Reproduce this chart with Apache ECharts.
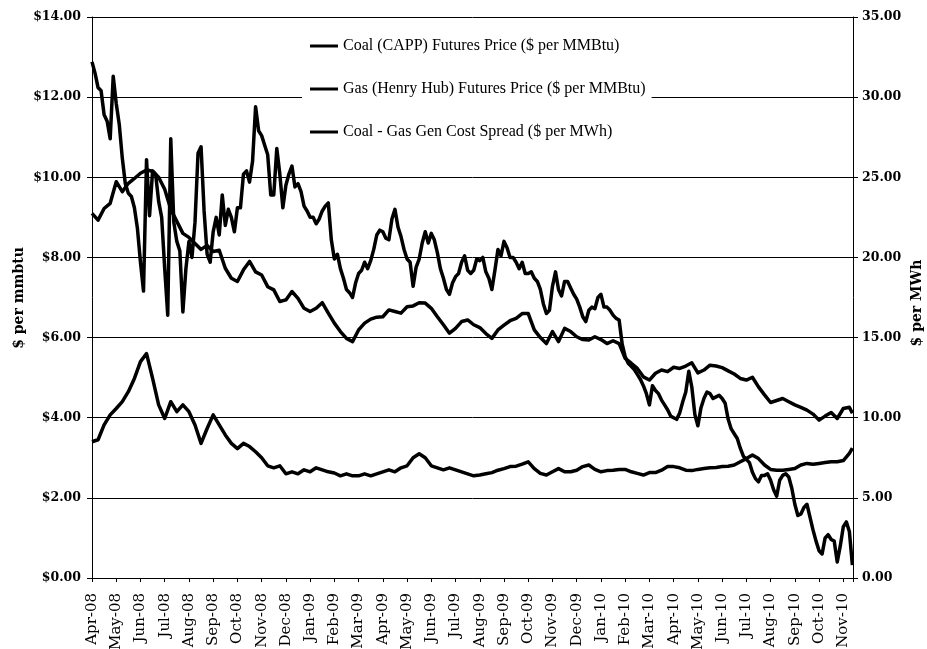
<!DOCTYPE html>
<html>
<head>
<meta charset="utf-8">
<script src="https://cdn.jsdelivr.net/npm/echarts@6/dist/echarts.min.js"></script>
<style>html,body{margin:0;padding:0;background:#fff}#c{width:927px;height:649px}</style>
</head>
<body>
<div id="c"></div>
<script>
// Month tick labels (one per month start; position = month index from Apr-08)
const monthLabels = ['Apr-08','May-08','Jun-08','Jul-08','Aug-08','Sep-08','Oct-08','Nov-08','Dec-08',
  'Jan-09','Feb-09','Mar-09','Apr-09','May-09','Jun-09','Jul-09','Aug-09','Sep-09','Oct-09','Nov-09','Dec-09',
  'Jan-10','Feb-10','Mar-10','Apr-10','May-10','Jun-10','Jul-10','Aug-10','Sep-10','Oct-10','Nov-10'];

const seriesNames = ['Coal (CAPP) Futures Price ($ per MMBtu)',
  'Gas (Henry Hub) Futures Price ($ per MMBtu)',
  'Coal - Gas Gen Cost Spread ($ per MWh)'];

// Sample dates (months since 1 Apr 2008), roughly weekly
const weekPos = [0,0.25,0.5,0.75,1,1.25,1.5,1.75,2,2.25,2.5,2.75,3,3.25,3.5,3.75,4,4.25,4.5,4.75,
  5,5.25,5.5,5.75,6,6.25,6.5,6.75,7,7.25,7.5,7.75,8,8.25,8.5,8.75,9,9.25,9.5,9.75,
  10,10.25,10.5,10.75,11,11.25,11.5,11.75,12,12.25,12.5,12.75,13,13.25,13.5,13.75,14,14.25,14.5,14.75,
  15,15.25,15.5,15.75,16,16.25,16.5,16.75,17,17.25,17.5,17.75,18,18.25,18.5,18.75,19,19.25,19.5,19.75,
  20,20.25,20.5,20.75,21,21.25,21.5,21.75,22,22.25,22.5,22.75,23,23.25,23.5,23.75,24,24.25,24.5,24.75,
  25,25.25,25.5,25.75,26,26.25,26.5,26.75,27,27.25,27.5,27.75,28,28.25,28.5,28.75,29,29.25,29.5,29.75,
  30,30.25,30.5,30.75,31,31.25,31.375];

// Coal (CAPP) futures, $ per MMBtu
const coalPrice = [
  3.40,3.45,3.82,4.07, 4.23,4.40,4.65,4.98, 5.40,5.60,4.98,4.32, 3.98,4.40,4.15,4.32,
  4.15,3.82,3.36,3.73, 4.07,3.82,3.57,3.36, 3.23,3.36,3.28,3.15, 3.00,2.80,2.75,2.80,
  2.60,2.65,2.60,2.70, 2.65,2.75,2.70,2.65, 2.62,2.55,2.60,2.55, 2.55,2.60,2.55,2.60,
  2.65,2.70,2.65,2.75, 2.80,3.00,3.10,3.00, 2.80,2.75,2.70,2.75, 2.70,2.65,2.60,2.55,
  2.57,2.60,2.63,2.69, 2.73,2.78,2.79,2.84, 2.90,2.73,2.61,2.57, 2.65,2.73,2.65,2.65,
  2.69,2.78,2.82,2.71, 2.65,2.68,2.69,2.71, 2.71,2.65,2.61,2.57, 2.63,2.63,2.69,2.78,
  2.78,2.75,2.69,2.68, 2.71,2.73,2.75,2.76, 2.78,2.79,2.82,2.90, 2.98,3.07,2.98,2.82,
  2.71,2.69,2.69,2.71, 2.73,2.82,2.86,2.84, 2.86,2.88,2.90,2.90, 2.93,3.11,3.24];

// Gas (Henry Hub) futures, $ per MMBtu
const gasPrice = [
  9.10,8.93,9.22,9.35, 9.89,9.64,9.85,9.97, 10.10,10.18,10.15,10.00, 9.70,9.20,8.90,8.60,
  8.50,8.35,8.20,8.30, 8.15,8.18,7.73,7.48, 7.40,7.69,7.90,7.64, 7.56,7.27,7.19,6.90,
  6.94,7.15,6.98,6.73, 6.65,6.73,6.87,6.61, 6.36,6.15,5.98,5.90, 6.19,6.36,6.46,6.51,
  6.52,6.69,6.65,6.61, 6.77,6.79,6.87,6.86, 6.73,6.52,6.32,6.11, 6.23,6.40,6.44,6.32,
  6.25,6.10,5.98,6.19, 6.31,6.42,6.48,6.60, 6.60,6.19,6.00,5.85, 6.15,5.90,6.23,6.15,
  6.02,5.95,5.94,6.02, 5.95,5.85,5.92,5.85, 5.48,5.36,5.23,5.02, 4.94,5.11,5.19,5.15,
  5.26,5.23,5.29,5.37, 5.12,5.19,5.31,5.29, 5.25,5.17,5.09,4.98, 4.94,5.01,4.77,4.57,
  4.38,4.43,4.48,4.40, 4.32,4.26,4.19,4.09, 3.94,4.04,4.13,3.98, 4.23,4.26,4.11];

// Spread sample dates (months since 1 Apr 2008), about every 4 days
const spreadPos = [
  0,0.125,0.25,0.375,0.5,0.625,0.75,0.875, 1,1.125,1.25,1.375,1.5,1.625,1.75,1.875,
  2,2.125,2.25,2.375,2.5,2.625,2.75,2.875, 3,3.125,3.25,3.375,3.5,3.625,3.75,3.875,
  4,4.125,4.25,4.375,4.5,4.625,4.75,4.875, 5,5.125,5.25,5.375,5.5,5.625,5.75,5.875,
  6,6.125,6.25,6.375,6.5,6.625,6.75,6.875, 7,7.125,7.25,7.375,7.5,7.625,7.75,7.875,
  8,8.125,8.25,8.375,8.5,8.625,8.75,8.875, 9,9.125,9.25,9.375,9.5,9.625,9.75,9.875,
  10,10.125,10.25,10.375,10.5,10.625,10.75,10.875, 11,11.125,11.25,11.375,11.5,11.625,11.75,11.875,
  12,12.125,12.25,12.375,12.5,12.625,12.75,12.875, 13,13.125,13.25,13.375,13.5,13.625,13.75,13.875,
  14,14.125,14.25,14.375,14.5,14.625,14.75,14.875, 15,15.125,15.25,15.375,15.5,15.625,15.75,15.875,
  16,16.125,16.25,16.375,16.5,16.625,16.75,16.875, 17,17.125,17.25,17.375,17.5,17.625,17.75,17.875,
  18,18.125,18.25,18.375,18.5,18.625,18.75,18.875, 19,19.125,19.25,19.375,19.5,19.625,19.75,19.875,
  20,20.125,20.25,20.375,20.5,20.625,20.75,20.875, 21,21.125,21.25,21.375,21.5,21.625,21.75,21.875,
  22,22.125,22.25,22.375,22.5,22.625,22.75,22.875, 23,23.125,23.25,23.375,23.5,23.625,23.75,23.875,
  24,24.125,24.25,24.375,24.5,24.625,24.75,24.875, 25,25.125,25.25,25.375,25.5,25.625,25.75,25.875,
  26,26.125,26.25,26.375,26.5,26.625,26.75,26.875, 27,27.125,27.25,27.375,27.5,27.625,27.75,27.875,
  28,28.125,28.25,28.375,28.5,28.625,28.75,28.875, 29,29.125,29.25,29.375,29.5,29.625,29.75,29.875,
  30,30.125,30.25,30.375,30.5,30.625,30.75,30.875, 31,31.125,31.25,31.375];

// Coal - Gas generation cost spread, $ per MWh
const spreadMWh = [
  32.2,31.5,30.6,30.4,28.9,28.5,27.4,31.3, 29.6,28.3,26.2,24.6,24.0,23.8,23.1,21.8,
  19.7,17.9,26.1,22.6,25.4,25.2,23.5,22.5, 19.3,16.4,27.4,22.2,21.0,20.4,16.6,19.3,
  21.0,20.0,22.2,26.5,26.9,22.9,20.2,19.7, 21.6,22.5,21.4,23.9,22.0,23.0,22.5,21.6,
  23.1,23.1,25.2,25.4,24.7,26.0,29.4,27.9, 27.6,27.0,26.4,23.9,23.9,26.8,25.2,23.1,
  24.5,25.2,25.7,24.4,24.6,24.1,23.2,22.9, 22.5,22.5,22.1,22.4,22.9,23.2,23.4,21.1,
  19.9,20.2,19.3,18.7,18.0,17.8,17.5,18.4, 19.0,19.2,19.7,19.3,19.8,20.5,21.4,21.7,
  21.6,21.2,21.1,22.4,23.0,21.9,21.3,20.5, 19.9,19.7,18.2,19.4,19.9,20.9,21.6,20.9,
  21.5,21.1,20.3,19.3,18.7,18.0,17.7,18.4, 18.8,19.0,19.7,20.1,19.2,19.0,19.2,19.9,
  19.8,20.0,19.1,18.7,18.0,19.2,20.5,20.1, 21.0,20.6,20.0,20.0,19.7,19.3,19.7,19.0,
  19.0,19.1,18.7,18.5,18.0,17.1,16.5,16.7, 18.2,19.1,18.0,17.6,18.5,18.5,18.1,17.7,
  17.4,16.9,16.3,16.0,16.7,16.9,16.8,17.5, 17.7,16.9,16.9,16.7,16.4,16.2,16.1,14.6,
  13.8,13.4,13.2,13.0,12.7,12.4,12.0,11.5, 10.8,12.0,11.7,11.5,11.1,10.8,10.5,10.1,
  10.0,9.9,10.3,11.0,11.6,12.9,11.9,10.2, 9.5,10.6,11.2,11.6,11.5,11.2,11.3,11.4,
  11.2,10.9,9.9,9.3,9.0,8.7,8.1,7.6, 7.4,7.2,6.6,6.2,6.0,6.4,6.4,6.5,
  6.1,5.5,5.1,6.1,6.4,6.5,6.3,5.6, 4.6,3.9,4.0,4.4,4.6,3.8,3.0,2.3,
  1.7,1.5,2.5,2.7,2.4,2.3,1.0,2.0, 3.2,3.5,2.9,0.8];

const pair = (xs, ys) => xs.map((x, i) => [x, ys[i]]);

const chart = echarts.init(document.getElementById('c'), null, {renderer: 'canvas'});
const serifLabel = {fontFamily: 'DejaVu Serif', color: '#000'};
const lineCommon = {type: 'line', symbol: 'none', smooth: false, animation: false,
  color: '#000', itemStyle: {color: '#000'}};

chart.setOption({
  animation: false,
  backgroundColor: '#fff',
  grid: {left: 92, right: 74, top: 17, bottom: 71, containLabel: false, outerBoundsMode: 'none'},
  legend: {
    orient: 'vertical', left: 302, top: 32,
    icon: 'rect', itemWidth: 28, itemHeight: 3, itemGap: 27,
    backgroundColor: '#fff', padding: [6, 6, 6, 8],
    textStyle: {fontFamily: 'Liberation Serif', fontSize: 16, color: '#000'},
    data: seriesNames
  },
  xAxis: {
    type: 'value', min: 0, max: 31.4, interval: 1,
    axisLine: {lineStyle: {color: '#000', width: 1}},
    axisTick: {length: 4, lineStyle: {color: '#000'}},
    splitLine: {show: false},
    axisLabel: Object.assign({}, serifLabel, {
      rotate: 90, margin: 15, fontSize: 15,
      formatter: v => (Number.isInteger(v) && monthLabels[v]) ? monthLabels[v] : ''
    })
  },
  yAxis: [{
    type: 'value', min: 0, max: 14, interval: 2, position: 'left',
    axisLine: {show: true, lineStyle: {color: '#000'}},
    axisTick: {show: true, length: 5, lineStyle: {color: '#000'}},
    splitLine: {show: true, lineStyle: {color: '#000', width: 1}},
    axisLabel: Object.assign({}, serifLabel, {fontSize: 12.5, fontWeight: 'bold', margin: 11,
      formatter: v => '$' + v.toFixed(2)})
  }, {
    type: 'value', min: 0, max: 35, interval: 5, position: 'right',
    axisLine: {show: true, lineStyle: {color: '#000'}},
    axisTick: {show: true, length: 5, lineStyle: {color: '#000'}},
    splitLine: {show: false},
    axisLabel: Object.assign({}, serifLabel, {fontSize: 12.5, fontWeight: 'bold', margin: 9,
      formatter: v => v.toFixed(2)})
  }],
  graphic: [{
    type: 'text', x: 19, y: 298, rotation: Math.PI / 2,
    style: {text: '$ per mmbtu', font: 'bold 14px "DejaVu Serif"', fill: '#000',
      textAlign: 'center', textVerticalAlign: 'middle', verticalAlign: 'middle'}
  }, {
    type: 'text', x: 917, y: 303, rotation: Math.PI / 2,
    style: {text: '$ per MWh', font: 'bold 14px "DejaVu Serif"', fill: '#000',
      textAlign: 'center', textVerticalAlign: 'middle', verticalAlign: 'middle'}
  }],
  series: [
    Object.assign({}, lineCommon, {name: seriesNames[0], yAxisIndex: 0, z: 3,
      lineStyle: {color: '#000', width: 3.5, join: 'round'}, data: pair(weekPos, coalPrice)}),
    Object.assign({}, lineCommon, {name: seriesNames[1], yAxisIndex: 0, z: 3,
      lineStyle: {color: '#000', width: 3.5, join: 'round'}, data: pair(weekPos, gasPrice)}),
    Object.assign({}, lineCommon, {name: seriesNames[2], yAxisIndex: 1, z: 2,
      lineStyle: {color: '#000', width: 3.5, join: 'round'}, data: pair(spreadPos, spreadMWh)})
  ]
});
</script>
</body>
</html>
